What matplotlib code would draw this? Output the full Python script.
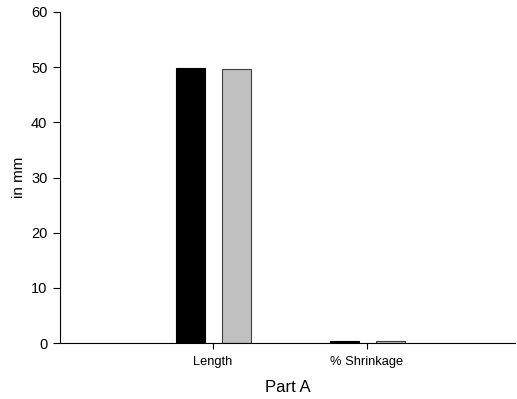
import numpy as np
import matplotlib.pyplot as plt

plt.rcParams['font.family'] = ['Liberation Sans', 'DejaVu Sans']

categories = ['Length', '% Shrinkage']
series_a = [49.8, 0.3]
series_b = [49.7, 0.4]

x = np.arange(len(categories))
w = 0.188

fig = plt.figure(figsize=(5.17, 3.99), dpi=100)
ax = fig.add_axes([0.116, 0.140, 0.88, 0.830])

ax.bar(x - 0.147, series_a, w, color='black', edgecolor='black', linewidth=0.8)
ax.bar(x + 0.153, series_b, w, color='#c0c0c0', edgecolor='#404040', linewidth=0.8)

ax.set_xlim(-0.994, 1.961)
ax.set_ylim(0, 60)
ax.set_yticks(range(0, 61, 10))
ax.set_xticks(x)
ax.set_xticklabels(categories)

for s in ['top', 'right']:
    ax.spines[s].set_visible(False)
for s in ['left', 'bottom']:
    ax.spines[s].set_linewidth(0.8)

ax.tick_params(axis='y', direction='out', length=5, width=0.8, labelsize=10.5, pad=4)
ax.tick_params(axis='x', direction='out', length=4, width=0.8, labelsize=9.3, pad=5)

ax.set_ylabel('in mm', fontsize=11, labelpad=4)
ax.set_xlabel('Part A', fontsize=12, labelpad=9)

fig.savefig('out.png', dpi=100)
